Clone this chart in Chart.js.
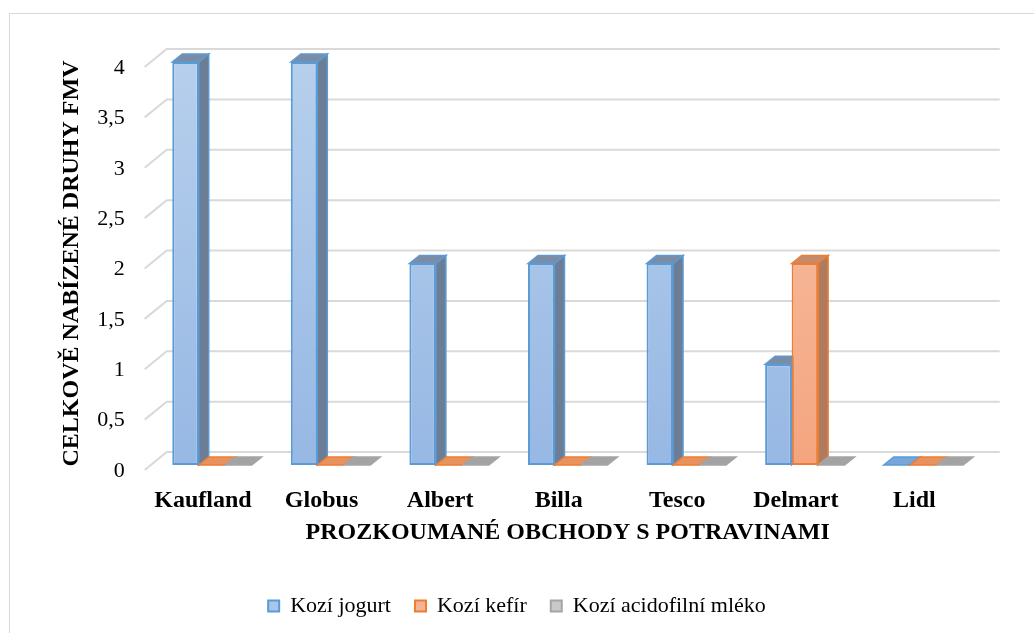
<!DOCTYPE html>
<html><head><meta charset="utf-8">
<script src="https://cdn.jsdelivr.net/npm/chart.js@4"></script>
<style>html,body{margin:0;padding:0;background:#fff;}#wrap{width:1034px;height:633px;}</style>
</head><body><div id="wrap"><canvas id="c" width="1034" height="633"></canvas></div>
<script>
const categories = ['Kaufland','Globus','Albert','Billa','Tesco','Delmart','Lidl'];
const seriesNames = ['Kozí jogurt','Kozí kefír','Kozí acidofilní mléko'];
const jogurt = [4,4,2,2,2,1,0];
const kefir = [0,0,0,0,0,2,0];
const acidofilni = [0,0,0,0,0,0,0];
const yMin = 0, yMax = 4, yStep = 0.5;
const xTitle = 'PROZKOUMANÉ OBCHODY S POTRAVINAMI';
const yTitle = 'CELKOVĚ NABÍZENÉ DRUHY FMV';

const F = 'Liberation Serif';
const DX = 10, DY = 8;

function grad(c1, c2){
  return (ctx) => {
    const ch = ctx.chart; const a = ch.chartArea;
    if (!a) return c1;
    const g = ch.ctx.createLinearGradient(0, a.top, 0, a.bottom);
    g.addColorStop(0, c1); g.addColorStop(1, c2); return g;
  };
}

const styles = [
  {front: grad('#b6cfec','#97b8e4'), border:'#5b9bd5', top:'#7b8da6', side:'#6c7e96', flat:'#78a5da', legend:'#a9c5e9'},
  {front: grad('#f8c3aa','#f4a57f'), border:'#ed7d31', top:'#c48b6c', side:'#ae7a60', flat:'#e8935e', legend:'#f6b497'},
  {front: grad('#c4c4c4','#b0b0b0'), border:'#a5a5a5', top:'#a0a0a0', side:'#8c8c8c', flat:'#a3a3a3', legend:'#c9c9c9'}
];
const seriesData = [jogurt, kefir, acidofilni];

const depth = {
  id: 'depth',
  beforeDraw(chart){
    const ctx = chart.ctx;
    ctx.save();
    ctx.fillStyle = '#fff'; ctx.fillRect(0,0,chart.width,chart.height);
    ctx.strokeStyle = '#d9d9d9'; ctx.lineWidth = 1;
    ctx.strokeRect(9.5, 13.5, 1100, 700);
    ctx.restore();
  },
  beforeDatasetsDraw(chart){
    const {ctx, chartArea:a} = chart; const y = chart.scales.y;
    ctx.save();
    ctx.strokeStyle = '#d9d9d9'; ctx.lineWidth = 2;
    y.ticks.forEach(t => {
      const py = y.getPixelForValue(t.value);
      ctx.beginPath();
      ctx.moveTo(a.left - 8, py + 5);
      ctx.lineTo(a.left + 14, py - 13);
      ctx.lineTo(a.right + 17, py - 13);
      ctx.stroke();
    });
    chart.data.datasets.forEach((ds, i) => {
      const st = styles[i];
      chart.getDatasetMeta(i).data.forEach(bar => {
        const p = bar.getProps(['x','y','base','width'], true);
        const l = p.x - p.width/2, r = p.x + p.width/2, t = Math.min(p.y, p.base), b = Math.max(p.y, p.base);
        ctx.lineWidth = 1.5; ctx.strokeStyle = st.border;
        const tall = b - t > 0.5;
        if (tall){
          ctx.beginPath();
          ctx.moveTo(r, t); ctx.lineTo(r+DX, t-DY); ctx.lineTo(r+DX, b-DY); ctx.lineTo(r, b); ctx.closePath();
          ctx.fillStyle = st.side; ctx.fill(); ctx.stroke();
        }
        ctx.beginPath();
        ctx.moveTo(l, t); ctx.lineTo(l+DX, t-DY); ctx.lineTo(r+DX, t-DY); ctx.lineTo(r, t); ctx.closePath();
        ctx.fillStyle = tall ? st.top : st.flat; ctx.fill(); ctx.stroke();
      });
    });
    ctx.restore();
  }
};

new Chart(document.getElementById('c'), {
  type: 'bar',
  data: {
    labels: categories,
    datasets: seriesNames.map((n, i) => ({
      label: n, data: seriesData[i],
      backgroundColor: styles[i].front, borderColor: styles[i].border, borderWidth: 2, borderSkipped: false,
      categoryPercentage: 0.67, barPercentage: 1.0
    }))
  },
  options: {
    responsive: false, animation: false, devicePixelRatio: 1,
    layout: {padding: {top: 62, right: 0, bottom: 6, left: 0}},
    plugins: {
      tooltip: {enabled: false},
      legend: {
        position: 'bottom',
        labels: {
          boxWidth: 11, boxHeight: 11, padding: 24, color: '#000',
          font: {family: F, size: 22},
          generateLabels(chart){
            return chart.data.datasets.map((ds, i) => ({
              text: ds.label, fillStyle: styles[i].legend, strokeStyle: styles[i].border,
              lineWidth: 2, hidden: false, datasetIndex: i, fontColor: '#000'
            }));
          }
        }
      }
    },
    scales: {
      x: {
        grid: {display: false, drawTicks: false}, border: {display: false},
        ticks: {font: {family: F, size: 24, weight: 'bold'}, color: '#000', padding: 21.6, labelOffset: -9, maxRotation: 0, autoSkip: false},
        title: {display: true, text: xTitle, color: '#000', font: {family: F, size: 24, weight: 'bold'}, padding: {top: 0, bottom: 23.6}},
        afterFit(s){ s.height = 106; }
      },
      y: {
        min: yMin, max: yMax,
        grid: {display: false, drawTicks: false}, border: {display: false},
        ticks: {stepSize: yStep, font: {family: F, size: 22}, color: '#000', padding: 28, labelOffset: 6,
          callback: v => String(v).replace('.', ',')},
        title: {display: true, text: yTitle, color: '#000', font: {family: F, size: 24, weight: 'bold'}, padding: {top: 57.6, bottom: 0}},
        afterFit(s){ s.width = 152.7; }
      },
      yR: {
        position: 'right', display: true,
        grid: {display: false, drawTicks: false}, border: {display: false},
        ticks: {display: false},
        afterFit(s){ s.width = 51.3; }
      }
    }
  },
  plugins: [depth]
});
</script>
</body></html>
